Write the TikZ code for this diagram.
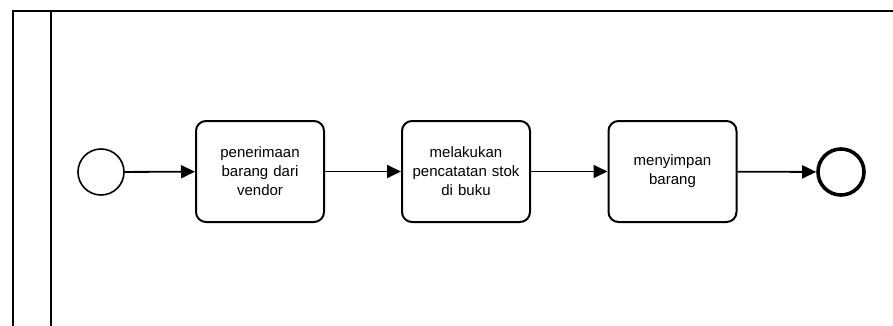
\documentclass[tikz,border=0pt]{standalone}
\usepackage{fontspec}
\setmainfont{Liberation Sans}
\usetikzlibrary{arrows.meta}
\definecolor{bpmnline}{RGB}{0, 0, 0}

\tikzset{
  pool/.style={bpmnline, line width=2.2pt},
  taskbox/.style={draw=bpmnline, line width=2pt, rounded corners=10pt,
    minimum width=128pt, minimum height=101pt, text width=120pt, align=center,
    font=\fontsize{15pt}{19pt}\selectfont},
  startev/.style={circle, draw=bpmnline, line width=1.6pt, minimum size=46pt},
  endev/.style={circle, draw=bpmnline, line width=3.6pt, minimum size=46pt},
  flow/.style={bpmnline, line width=1.8pt, -{Triangle[length=14pt, width=13pt]}}
}

\begin{document}
\begin{tikzpicture}[x=1pt, y=-1pt]
 \useasboundingbox (0,0) rectangle (893,326);

 % Pool and lane header
 \draw[pool] (893,11) -- (13,11) -- (13,326);
 \draw[pool] (51,11) -- (51,326);

 % Events and tasks
 \node[startev] (start) at (101,172) {};
 \node[taskbox] (terima) at (260,171.5) {penerimaan\\barang dari\\vendor};
 \node[taskbox] (catat) at (466,171.5) {melakukan\\pencatatan stok\\di buku};
 \node[taskbox] (simpan) at (672.5,171.5) {menyimpan\\barang};
 \node[endev] (selesai) at (841,172) {};

 % Sequence flows
 \draw[flow] (start) -- (terima);
 \draw[flow] (terima) -- (catat);
 \draw[flow] (catat) -- (simpan);
 \draw[flow] (simpan) -- (selesai);
\end{tikzpicture}
\end{document}
